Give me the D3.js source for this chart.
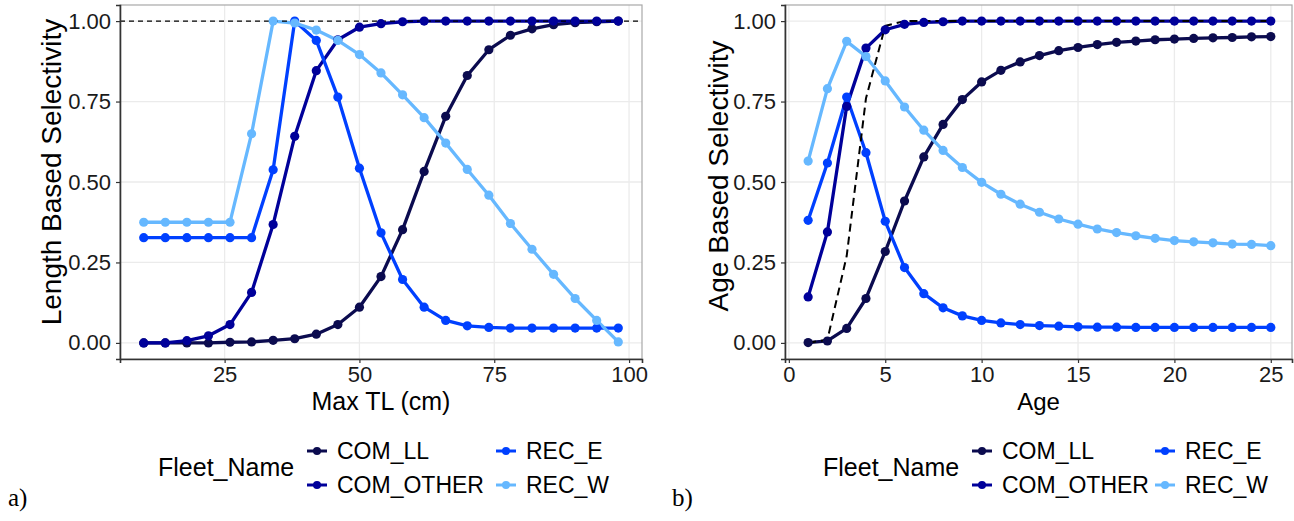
<!DOCTYPE html>
<html lang="en">
<head>
<meta charset="utf-8">
<script src="https://d3js.org/d3.v7.min.js"></script>
<title>Selectivity</title>
<style>
  body { margin: 0; background: #fff; }
  svg text { font-family: "Liberation Sans", Arial, sans-serif; }
</style>
</head>
<body>
<div id="chart"></div>
<script>
// fleets and colours
var fleets = ["COM_LL", "COM_OTHER", "REC_E", "REC_W"];
var colors = ["#0b0b4f", "#00009a", "#0040ff", "#66b8ff"];

// panel a: length based selectivity
var lengths = [10, 14, 18, 22, 26, 30, 34, 38, 42, 46, 50, 54, 58, 62, 66, 70, 74, 78, 82, 86, 90, 94, 98];
var lenComLL    = [0, 0, 0, 0, 0.002, 0.003, 0.008, 0.013, 0.027, 0.057, 0.111, 0.206, 0.352, 0.533, 0.704, 0.831, 0.911, 0.956, 0.976, 0.989, 0.995, 0.998, 1.0];
var lenComOther = [0, 0, 0.007, 0.022, 0.057, 0.157, 0.368, 0.642, 0.846, 0.942, 0.981, 0.992, 0.998, 1.0, 1.0, 1.0, 1.0, 1.0, 1.0, 1.0, 1.0, 1.0, 1.0];
var lenRecE     = [0.327, 0.327, 0.327, 0.327, 0.327, 0.327, 0.538, 1.0, 0.94, 0.764, 0.543, 0.342, 0.197, 0.111, 0.07, 0.053, 0.048, 0.046, 0.046, 0.046, 0.046, 0.046, 0.046];
var lenRecW     = [0.375, 0.375, 0.375, 0.375, 0.375, 0.65, 1.0, 0.994, 0.972, 0.94, 0.896, 0.839, 0.771, 0.70, 0.621, 0.539, 0.459, 0.371, 0.291, 0.213, 0.138, 0.07, 0.003];
var lenRef = 1.0;

// panel b: age based selectivity
var ages = d3.range(1, 26);
var ageComLL    = [0.001, 0.006, 0.045, 0.138, 0.284, 0.441, 0.578, 0.679, 0.756, 0.811, 0.847, 0.873, 0.893, 0.908, 0.918, 0.927, 0.934, 0.938, 0.942, 0.944, 0.946, 0.948, 0.949, 0.951, 0.952];
var ageComOther = [0.143, 0.345, 0.735, 0.916, 0.973, 0.990, 0.996, 0.998, 1.0, 1.0, 1.0, 1.0, 1.0, 1.0, 1.0, 1.0, 1.0, 1.0, 1.0, 1.0, 1.0, 1.0, 1.0, 1.0, 1.0];
var ageRecE     = [0.381, 0.559, 0.764, 0.591, 0.378, 0.234, 0.153, 0.109, 0.084, 0.070, 0.062, 0.057, 0.054, 0.052, 0.050, 0.049, 0.049, 0.048, 0.048, 0.048, 0.048, 0.048, 0.048, 0.048, 0.048];
var ageRecW     = [0.565, 0.790, 0.937, 0.890, 0.814, 0.733, 0.661, 0.598, 0.545, 0.499, 0.462, 0.431, 0.406, 0.385, 0.369, 0.354, 0.343, 0.333, 0.325, 0.318, 0.314, 0.311, 0.307, 0.306, 0.302];
var ageMature   = [0, 0.01, 0.27, 0.76, 0.985, 1.0, 1.0, 1.0, 1.0, 1.0, 1.0, 1.0, 1.0, 1.0, 1.0, 1.0, 1.0, 1.0, 1.0, 1.0, 1.0, 1.0, 1.0, 1.0, 1.0];

var yTicks = [0, 0.25, 0.5, 0.75, 1.0];

var svg = d3.select("#chart").append("svg")
    .attr("width", 1294)
    .attr("height", 521);

function panel(opt) {
    var x = d3.scaleLinear().domain(opt.xDomain).range([opt.left, opt.right]);
    var y = d3.scaleLinear().domain([-0.05, 1.05]).range([359, 5]);
    var g = svg.append("g");

    // grid
    g.selectAll(".gx").data(opt.xTicks).enter().append("line")
        .attr("x1", function(d){ return x(d); }).attr("x2", function(d){ return x(d); })
        .attr("y1", y.range()[0]).attr("y2", y.range()[1])
        .attr("stroke", "#ebebeb").attr("stroke-width", 1.3);
    g.selectAll(".gy").data(yTicks).enter().append("line")
        .attr("x1", opt.left).attr("x2", opt.right)
        .attr("y1", function(d){ return y(d); }).attr("y2", function(d){ return y(d); })
        .attr("stroke", "#ebebeb").attr("stroke-width", 1.3);

    var line = d3.line()
        .x(function(d){ return x(d[0]); })
        .y(function(d){ return y(d[1]); });

    var series = opt.series.map(function(vals, i) {
        return { name: fleets[i], color: colors[i], pts: opt.xs.map(function(v, j){ return [v, vals[j]]; }) };
    });

    series.forEach(function(s) {
        g.append("path").datum(s.pts)
            .attr("d", line)
            .attr("fill", "none")
            .attr("stroke", s.color)
            .attr("stroke-width", 3.3)
            .attr("stroke-linejoin", "round");
    });

    // dashed reference
    if (opt.hline != null) {
        g.append("line")
            .attr("x1", opt.left).attr("x2", opt.right)
            .attr("y1", y(opt.hline)).attr("y2", y(opt.hline))
            .attr("stroke", "#000").attr("stroke-width", 1.3)
            .attr("stroke-dasharray", "5,4");
    }
    if (opt.dashed) {
        g.append("path").datum(opt.xs.map(function(v, j){ return [v, opt.dashed[j]]; }))
            .attr("d", line)
            .attr("fill", "none")
            .attr("stroke", "#000").attr("stroke-width", 2)
            .attr("stroke-dasharray", "8,5");
    }

    series.forEach(function(s) {
        g.selectAll(null).data(s.pts).enter().append("circle")
            .attr("cx", function(d){ return x(d[0]); })
            .attr("cy", function(d){ return y(d[1]); })
            .attr("r", 4.6)
            .attr("fill", s.color);
    });

    // border
    g.append("rect")
        .attr("x", opt.left).attr("y", 5)
        .attr("width", opt.right - opt.left).attr("height", 354)
        .attr("fill", "none").attr("stroke", "#a8a8a8").attr("stroke-width", 1.2);

    // axes
    var xa = g.append("g").attr("transform", "translate(0,359)")
        .call(d3.axisBottom(x).tickValues(opt.xTicks).tickSize(4).tickPadding(3).tickFormat(d3.format("d")));
    var ya = g.append("g").attr("transform", "translate(" + opt.left + ",0)")
        .call(d3.axisLeft(y).tickValues(yTicks).tickSize(4).tickPadding(5).tickFormat(d3.format(".2f")));
    [xa, ya].forEach(function(a) {
        a.select(".domain").attr("stroke", "#333").attr("stroke-width", 1.6);
        a.selectAll(".tick line").attr("stroke", "#333").attr("stroke-width", 1.2);
        a.selectAll(".tick text").attr("fill", "#1a1a1a").style("font-size", "22px")
            .style("font-family", "Liberation Sans, Arial, sans-serif");
    });

    // titles
    g.append("text")
        .attr("x", (opt.left + opt.right) / 2).attr("y", 410)
        .attr("text-anchor", "middle")
        .style("font-size", opt.xTitleSize)
        .text(opt.xTitle);
    g.append("text")
        .attr("transform", "translate(" + opt.yTitleX + "," + opt.yTitleY + ") rotate(-90)")
        .attr("text-anchor", "middle")
        .attr("dy", "0.35em")
        .style("font-size", "28px")
        .text(opt.yTitle);

    // legend
    var lg = g.append("g");
    lg.append("text")
        .attr("x", opt.legX).attr("y", 467)
        .attr("dy", "0.35em")
        .style("font-size", "25px")
        .text("Fleet_Name");
    fleets.forEach(function(f, i) {
        var col = Math.floor(i / 2), row = i % 2;
        var kx = opt.keyX + col * opt.colGap;
        var ky = row === 0 ? 451 : 485;
        lg.append("line")
            .attr("x1", kx).attr("x2", kx + 20)
            .attr("y1", ky).attr("y2", ky)
            .attr("stroke", colors[i]).attr("stroke-width", 3);
        lg.append("circle")
            .attr("cx", kx + 10).attr("cy", ky).attr("r", 4)
            .attr("fill", colors[i]);
        lg.append("text")
            .attr("x", kx + 30).attr("y", ky)
            .attr("dy", "0.35em")
            .style("font-size", "23px")
            .text(f);
    });

    svg.append("text")
        .attr("x", opt.tagX).attr("y", 506)
        .style("font-family", "Liberation Serif, Times New Roman, serif")
        .style("font-size", "25px")
        .text(opt.tag);
}

panel({
    left: 120, right: 642,
    xDomain: [5.6, 102.4],
    xTicks: [25, 50, 75, 100],
    xs: lengths,
    series: [lenComLL, lenComOther, lenRecE, lenRecW],
    hline: lenRef,
    xTitle: "Max TL (cm)", xTitleSize: "25px",
    yTitle: "Length Based Selectivity", yTitleX: 51, yTitleY: 172,
    legX: 158, keyX: 307, colGap: 189,
    tag: "a)", tagX: 8
});

panel({
    left: 785, right: 1292,
    xDomain: [-0.2, 26.1],
    xTicks: [0, 5, 10, 15, 20, 25],
    xs: ages,
    series: [ageComLL, ageComOther, ageRecE, ageRecW],
    dashed: ageMature,
    xTitle: "Age", xTitleSize: "24px",
    yTitle: "Age Based Selectivity", yTitleX: 718, yTitleY: 176,
    legX: 823, keyX: 972, colGap: 183,
    tag: "b)", tagX: 672
});
</script>
</body>
</html>
